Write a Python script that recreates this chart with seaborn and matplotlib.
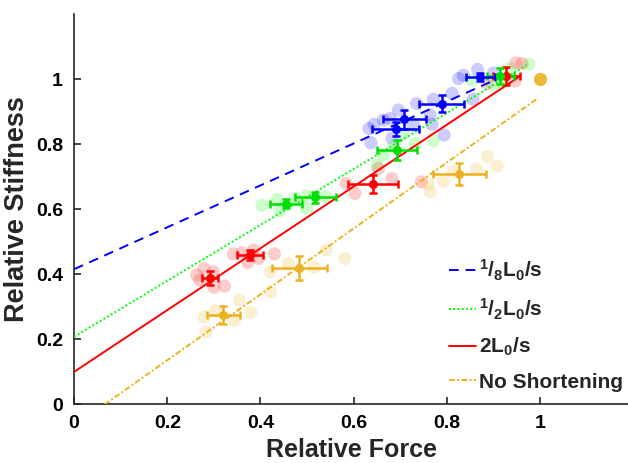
import numpy as np
import pandas as pd
import matplotlib
matplotlib.use("Agg")
import matplotlib.pyplot as plt
import seaborn as sns

# ---- data -------------------------------------------------------------
groups = ["eighth", "half", "two", "none"]
labels = [r"$\mathregular{{}^{1}/{}_{8}L_{0}/s}$",
          r"$\mathregular{{}^{1}/{}_{2}L_{0}/s}$",
          r"$\mathregular{2L_{0}/s}$",
          "No Shortening"]
colors = {"eighth": "#0000FF", "half": "#00FF00", "two": "#FF0000", "none": "#EDB120"}
mean_colors = {"eighth": "#0000FF", "half": "#00E000", "two": "#FF0000", "none": "#EDB120"}

# individual trials
eighth_x = [0.825, 0.835, 0.866, 0.900, 0.811, 0.771, 0.735, 0.696, 0.678, 0.664,
            0.644, 0.633, 0.637, 0.682, 0.728, 0.764, 0.768, 0.794, 0.856]
eighth_y = [1.002, 1.012, 1.030, 1.019, 0.956, 0.938, 0.925, 0.905, 0.879, 0.874,
            0.861, 0.848, 0.804, 0.818, 0.858, 0.889, 0.861, 0.828, 0.938]
half_x = [0.976, 0.936, 0.853, 0.921, 0.900, 0.771, 0.732, 0.707, 0.685, 0.664,
          0.650, 0.403, 0.435, 0.442, 0.474, 0.499, 0.499, 0.539]
half_y = [1.046, 1.033, 0.997, 0.987, 0.982, 0.810, 0.802, 0.833, 0.792, 0.766,
          0.735, 0.612, 0.630, 0.595, 0.633, 0.640, 0.602, 0.638]
two_x = [0.948, 0.961, 0.946, 0.886, 0.584, 0.603, 0.682, 0.653, 0.745,
         0.342, 0.360, 0.385, 0.373, 0.396, 0.430,
         0.263, 0.279, 0.299, 0.300, 0.323, 0.270]
two_y = [1.050, 1.048, 0.994, 0.987, 0.679, 0.648, 0.694, 0.725, 0.684,
         0.462, 0.466, 0.474, 0.435, 0.448, 0.462,
         0.397, 0.417, 0.407, 0.359, 0.363, 0.382]
none_x = [0.887, 0.908, 0.864, 0.814, 0.793, 0.760, 0.764,
          0.421, 0.460, 0.515, 0.541, 0.581, 0.421,
          0.279, 0.303, 0.355, 0.379, 0.344, 0.283]
none_y = [0.762, 0.733, 0.723, 0.715, 0.686, 0.677, 0.653,
          0.407, 0.433, 0.421, 0.474, 0.448, 0.346,
          0.267, 0.287, 0.320, 0.282, 0.258, 0.222]

# binned means with standard errors
eighth_mx = [0.872, 0.789, 0.709, 0.690]
eighth_my = [1.007, 0.925, 0.876, 0.846]
eighth_ex = [0.031, 0.048, 0.047, 0.051]
eighth_ey = [0.013, 0.027, 0.030, 0.021]
half_mx = [0.915, 0.692, 0.518, 0.454]
half_my = [1.009, 0.782, 0.636, 0.617]
half_ex = [0.030, 0.043, 0.044, 0.034]
half_ey = [0.024, 0.030, 0.016, 0.015]
two_mx = [0.927, 0.642, 0.378, 0.292]
two_my = [1.009, 0.677, 0.458, 0.387]
two_ex = [0.029, 0.054, 0.028, 0.017]
two_ey = [0.028, 0.028, 0.015, 0.021]
none_mx = [0.827, 0.483, 0.320]
none_my = [0.708, 0.419, 0.274]
none_ex = [0.057, 0.059, 0.035]
none_ey = [0.033, 0.037, 0.028]
ref_x, ref_y = [1.0], [1.0]

# linear fits: slope, intercept, end of fitted range
fit_slope = {"eighth": 0.645, "half": 0.861, "two": 0.951, "none": 1.014}
fit_icpt = {"eighth": 0.415, "half": 0.207, "two": 0.099, "none": -0.068}
fit_xmax = {"eighth": 0.903, "half": 0.971, "two": 0.957, "none": 0.996}

# ---- figure -----------------------------------------------------------
sns.set_theme(style="ticks")
plt.rcParams["font.family"] = ["Liberation Sans", "DejaVu Sans"]
plt.rcParams["font.weight"] = "bold"
plt.rcParams["mathtext.default"] = "regular"

fig = plt.figure(figsize=(6.28, 4.63), dpi=100)
ax = fig.add_axes([0.118, 0.1274, 0.883, 0.842])

pts = pd.concat([
    pd.DataFrame({"force": eighth_x, "stiff": eighth_y, "group": "eighth"}),
    pd.DataFrame({"force": half_x, "stiff": half_y, "group": "half"}),
    pd.DataFrame({"force": two_x, "stiff": two_y, "group": "two"}),
    pd.DataFrame({"force": none_x, "stiff": none_y, "group": "none"}),
], ignore_index=True)

sns.scatterplot(data=pts, x="force", y="stiff", hue="group", palette=colors,
                s=90, alpha=0.2, linewidth=0, legend=False, ax=ax, zorder=1)
sns.scatterplot(x=ref_x, y=ref_y, color="#EDB120", s=90, linewidth=0,
                alpha=0.9, legend=False, ax=ax, zorder=2)

styles = {"eighth": (0, (5, 3.5)), "half": (0, (1, 1.2)),
          "two": "-", "none": (0, (3, 1.2, 1, 1.2))}
for g, lab in zip(groups, labels):
    xs = np.linspace(0, fit_xmax[g], 50)
    line = pd.DataFrame({"force": xs, "stiff": fit_icpt[g] + fit_slope[g] * xs})
    sns.lineplot(data=line, x="force", y="stiff", color=colors[g], lw=1.4,
                 linestyle=styles[g], label=lab, ax=ax, zorder=3)

means = {"eighth": (eighth_mx, eighth_my, eighth_ex, eighth_ey),
         "half": (half_mx, half_my, half_ex, half_ey),
         "two": (two_mx, two_my, two_ex, two_ey),
         "none": (none_mx, none_my, none_ex, none_ey)}
for g in ["none", "two", "half", "eighth"]:
    mx, my, ex, ey = means[g]
    ax.errorbar(mx, my, xerr=ex, yerr=ey, fmt="o", color=mean_colors[g],
                ms=5.5, elinewidth=1.8, capsize=3, capthick=1.8, zorder=4)

ax.set_xlim(0, 1.19)
ax.set_ylim(0, 1.2)
ax.set_xticks([0, 0.2, 0.4, 0.6, 0.8, 1])
ax.set_xticklabels(["0", "0.2", "0.4", "0.6", "0.8", "1"])
ax.set_yticks([0, 0.2, 0.4, 0.6, 0.8, 1])
ax.set_yticklabels(["0", "0.2", "0.4", "0.6", "0.8", "1"])
ax.tick_params(direction="in", length=5, width=1.2, labelsize=14, pad=8,
               colors="#262626")
for lbl in ax.get_xticklabels() + ax.get_yticklabels():
    lbl.set_fontweight("bold")
    lbl.set_color("black")
ax.set_xlabel("Relative Force", fontsize=18, fontweight="bold", labelpad=4)
ax.set_ylabel("Relative Stiffness", fontsize=19.5, fontweight="bold", labelpad=4)
sns.despine(ax=ax)
for sp in ["left", "bottom"]:
    ax.spines[sp].set_linewidth(1.2)
    ax.spines[sp].set_color("#262626")

leg = ax.legend(loc="lower right", bbox_to_anchor=(1.012, 0.0), frameon=False,
                fontsize=15, handlelength=1.3, handletextpad=0.15,
                labelspacing=0.68, borderaxespad=0.2)
for t in leg.get_texts():
    t.set_fontweight("bold")

fig.savefig("out.png", dpi=100)
